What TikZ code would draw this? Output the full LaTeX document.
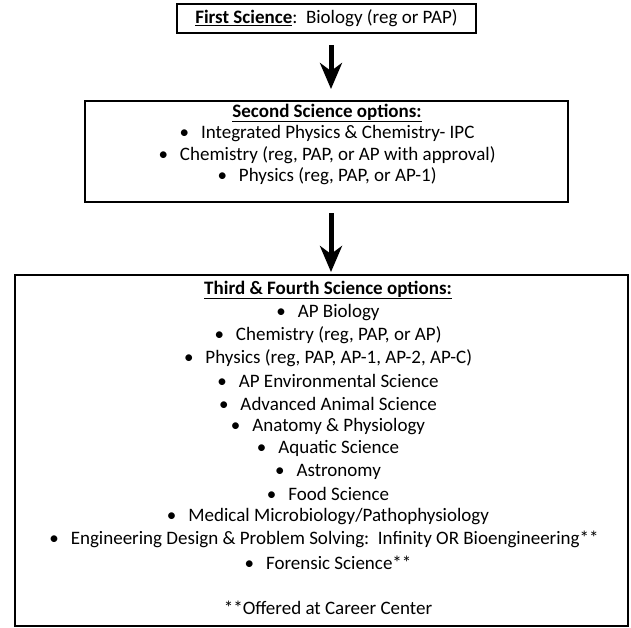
\documentclass[tikz,border=0pt]{standalone}
\usepackage{fontspec}
\setmainfont{Carlito}
\usetikzlibrary{arrows.meta}
\newcommand{\bitem}[1]{\textbullet\hspace{12pt}#1}
\begin{document}
\begin{tikzpicture}[x=1pt,y=-1pt,
  box/.style={draw, line width=2pt, inner sep=0pt},
  txt/.style={font=\fontsize{19}{22}\selectfont, inner sep=0pt, anchor=center},
  flow/.style={line width=5pt, -{Stealth[length=26pt,width=22pt,inset=8pt]}}]
\useasboundingbox (0,0) rectangle (631,627);
% boxes
\node[box, minimum width=299pt, minimum height=29pt, txt] (b1) at (326.5,18.5)
  {\textbf{\underline{First Science}}:\ \ Biology (reg or PAP)};
\node[box, minimum width=483pt, minimum height=101pt] (b2) at (326.5,151.5) {};
\node[box, minimum width=613pt, minimum height=351pt] (b3) at (321.5,450.5) {};
% box 2 text
\node[txt] (s0) at (327,113) {\textbf{\underline{Second Science options:}}};
\node[txt] (s1) at (327,134) {\bitem{Integrated Physics \& Chemistry- IPC}};
\node[txt] (s2) at (327,155) {\bitem{Chemistry (reg, PAP, or AP with approval)}};
\node[txt] (s3) at (327,176) {\bitem{Physics (reg, PAP, or AP-1)}};
% box 3 text
\node[txt] (r0) at (328,290) {\textbf{\underline{Third \& Fourth Science options:}}};
\node[txt] (r1) at (328,312.7) {\bitem{AP Biology}};
\node[txt] (r2) at (328,335.4) {\bitem{Chemistry (reg, PAP, or AP)}};
\node[txt] (r3) at (328,358.1) {\bitem{Physics (reg, PAP, AP-1, AP-2, AP-C)}};
\node[txt] (r4) at (328,380.8) {\bitem{AP Environmental Science}};
\node[txt] (r5) at (328,403.5) {\bitem{Advanced Animal Science}};
\node[txt] (r6) at (328,426.2) {\bitem{Anatomy \& Physiology}};
\node[txt] (r7) at (328,448.9) {\bitem{Aquatic Science}};
\node[txt] (r8) at (328,471.6) {\bitem{Astronomy}};
\node[txt] (r9) at (328,494.3) {\bitem{Food Science}};
\node[txt] (r10) at (328,517) {\bitem{Medical Microbiology/Pathophysiology}};
\node[txt] (r11) at (324,539.7) {\bitem{Engineering Design \& Problem Solving:\ \ Infinity OR Bioengineering**}};
\node[txt] (r12) at (328,562.4) {\bitem{Forensic Science**}};
\node[txt] (r13) at (328,607.8) {**Offered at Career Center};
% arrows
\coordinate (a1s) at (331,45);
\coordinate (a1e) at (331,89);
\coordinate (a2s) at (331,213);
\coordinate (a2e) at (331,272);
\draw[flow] (a1s) -- (a1e);
\draw[flow] (a2s) -- (a2e);
\end{tikzpicture}
\end{document}
